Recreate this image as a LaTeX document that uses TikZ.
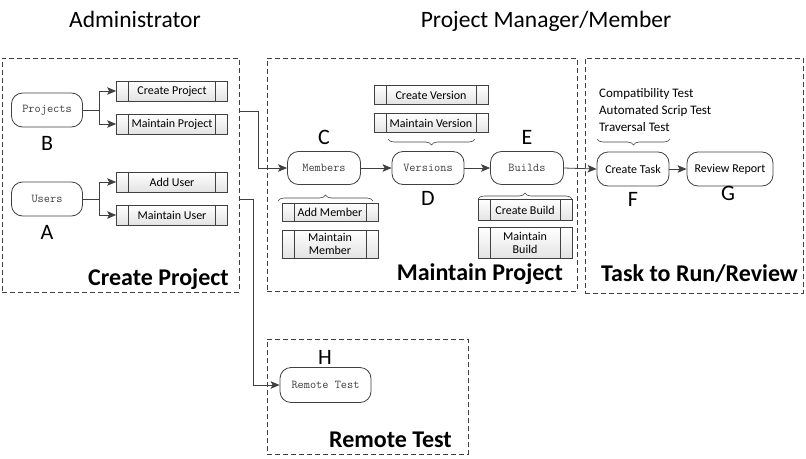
\documentclass[tikz,border=0pt]{standalone}
\usepackage{fontspec}
\setmainfont{Carlito}
\usetikzlibrary{arrows.meta,decorations.pathreplacing,shadings}
\definecolor{ln}{HTML}{404040}
\tikzset{
  roundbox/.style={draw=ln, line width=0.8pt, rounded corners=11pt, fill=white,
    minimum height=34pt, inner sep=0pt, font=\ttfamily\fontsize{12}{13}\selectfont, text=black!75},
  tasknode/.style={draw=ln, line width=0.8pt, rounded corners=11pt, fill=white,
    minimum height=34pt, inner sep=0pt, font=\fontsize{12}{13}\selectfont},
  procbox/.style={draw=ln, line width=0.7pt, top color=white, bottom color=gray!22,
    inner sep=0pt, font=\fontsize{12}{13}\selectfont, align=center,
    path picture={\draw[ln, line width=0.6pt]
      ([xshift=12pt]path picture bounding box.north west) -- ([xshift=12pt]path picture bounding box.south west)
      ([xshift=-12pt]path picture bounding box.north east) -- ([xshift=-12pt]path picture bounding box.south east);}},
  group/.style={draw=ln, line width=0.8pt, dash pattern=on 5pt off 3pt, inner sep=0pt},
  letter/.style={font=\fontsize{22}{24}\selectfont, inner sep=0pt},
  heading/.style={font=\fontsize{23.5}{25}\selectfont, inner sep=0pt, anchor=base},
  grouptitle/.style={font=\bfseries\fontsize{24}{26}\selectfont, inner sep=0pt, anchor=base east},
  conn/.style={draw=ln, line width=0.8pt, -{Stealth[length=9pt,width=7.5pt,inset=2pt]}},
  plain/.style={draw=ln, line width=0.8pt},
  brc/.style={draw=ln, line width=0.6pt, decorate, decoration={brace, amplitude=6pt}},
}
\begin{document}
\begin{tikzpicture}[x=1pt, y=-1pt]
\useasboundingbox (0,0) rectangle (806,458);

% headings
\node[heading] (hadmin) at (135,27) {Administrator};
\node[heading] (hpm) at (546,27) {Project Manager/Member};

% group boxes
\node[group, minimum width=237pt, minimum height=234pt] (g1) at (120.5,175) {};
\node[group, minimum width=310pt, minimum height=233pt] (g2) at (422,174.5) {};
\node[group, minimum width=218pt, minimum height=235pt] (g3) at (694,175.5) {};
\node[group, minimum width=201pt, minimum height=115pt] (g4) at (367.5,396.5) {};

\node[grouptitle] (t1) at (229,285) {Create Project};
\node[grouptitle] (t2) at (563,280) {Maintain Project};
\node[grouptitle] (t3) at (798,281) {Task to Run/Review};
\node[grouptitle] (t4) at (452,447) {Remote Test};

% Create Project group
\node[roundbox, minimum width=71pt] (projects) at (47,110) {Projects};
\node[roundbox, minimum width=71pt] (users) at (47,199) {Users};
\node[letter] (lb) at (47,143) {B};
\node[letter] (la) at (47,232) {A};
\node[procbox, minimum width=111pt, minimum height=20pt] (cp) at (172,91) {Create Project};
\node[procbox, minimum width=111pt, minimum height=20pt] (mp) at (172,124) {Maintain Project};
\node[procbox, minimum width=111pt, minimum height=20pt] (au) at (172,182) {Add User};
\node[procbox, minimum width=111pt, minimum height=20pt] (mu) at (172,215) {Maintain User};

\coordinate (pb) at (99,110);
\coordinate (ub) at (99,199);
\draw[plain] (projects.east) -- (pb);
\draw[conn] (pb) |- (cp.west);
\draw[conn] (pb) |- (mp.west);
\draw[plain] (users.east) -- (ub);
\draw[conn] (ub) |- (au.west);
\draw[conn] (ub) |- (mu.west);

% Maintain Project group
\node[roundbox, minimum width=73pt, minimum height=33pt] (members) at (324,168) {Members};
\node[roundbox, minimum width=72pt, minimum height=33pt] (versions) at (428,168) {Versions};
\node[roundbox, minimum width=73pt, minimum height=33pt] (builds) at (527,168) {Builds};
\node[letter] (lc) at (324,137) {C};
\node[letter] (ld) at (428,198) {D};
\node[letter] (le) at (527,137) {E};

\node[procbox, minimum width=114pt, minimum height=19pt] (cv) at (431,95) {Create Version};
\node[procbox, minimum width=114pt, minimum height=19pt] (mv) at (431,123) {Maintain Version};
\node[procbox, minimum width=96pt, minimum height=18pt] (am) at (330,212) {Add Member};
\node[procbox, minimum width=96pt, minimum height=28pt] (mm) at (330,244) {Maintain\\Member};
\node[procbox, minimum width=94pt, minimum height=21pt] (cb) at (525,210) {Create Build};
\node[procbox, minimum width=94pt, minimum height=31pt] (mb) at (525,243) {Maintain\\Build};

\draw[brc] (475,139) -- (388,139);
\draw[brc] (278,201) -- (373,201);
\draw[brc] (478,199) -- (572,199);

\draw[conn] (members.east) -- (versions.west);
\draw[conn] (versions.east) -- (builds.west);

% Task group
\node[tasknode, minimum width=72pt] (task) at (633,169) {Create Task};
\node[tasknode, minimum width=86pt] (review) at (730,169) {Review Report};
\node[letter] (lf) at (633,199) {F};
\node[letter] (lg) at (728,193) {G};
\node[anchor=north west, align=left, inner sep=0pt, font=\fontsize{13}{17}\selectfont] (tests) at (599,88)
  {Compatibility Test\\Automated Scrip Test\\Traversal Test};
\draw[brc] (670,139) -- (597,139);

\draw[conn] (builds.east) -- (task.west);
\draw[conn] (task.east) -- (review.west);

% Remote test
\node[roundbox, minimum width=91pt, minimum height=35pt] (remote) at (325.5,385) {Remote Test};
\node[letter] (lh) at (325,357) {H};

% connectors from admin
\coordinate (s1) at (240,111);
\coordinate (k1) at (258,111);
\coordinate (s2) at (240,199);
\coordinate (k2) at (253,199);
\draw[conn] (s1) -- (k1) |- (members.west);
\draw[conn] (s2) -- (k2) |- (remote.west);
\end{tikzpicture}
\end{document}
